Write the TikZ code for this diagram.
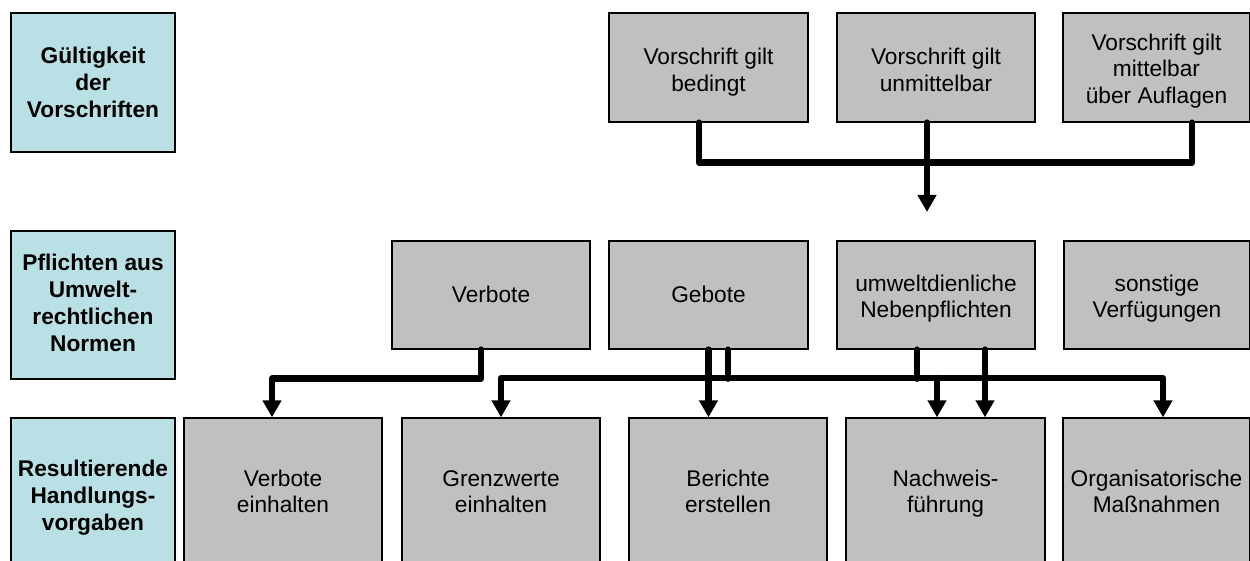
\documentclass[tikz,border=0pt]{standalone}
\usepackage{fontspec}
\setmainfont{Liberation Sans}
\usetikzlibrary{arrows.meta}
\definecolor{labfill}{RGB}{185,224,229}
\definecolor{boxfill}{RGB}{192,192,192}
\newcommand{\boxtext}[2]{\raisebox{-#1}[\height][\depth]{\begin{tabular}{@{}c@{}}#2\end{tabular}}}
\begin{document}
\begin{tikzpicture}[x=1pt,y=-1pt,
  font=\fontsize{22.7}{26.5}\selectfont,
  labelbox/.style={draw=black,line width=1.3pt,fill=labfill,inner sep=0pt,font=\fontsize{22.7}{27}\selectfont\bfseries},
  graybox/.style={draw=black,line width=1.3pt,fill=boxfill,inner sep=0pt},
  wire/.style={line width=6.5pt,line cap=round,line join=round},
  tipped/.style={-{Triangle[width=18pt,length=17pt]}},
  twotips/.style={{Triangle[width=18pt,length=17pt]}-{Triangle[width=18pt,length=17pt]}}]
\useasboundingbox (0,0) rectangle (1250,561);
\clip (0,0) rectangle (1250,561);

% row labels
\node[labelbox,minimum width=164pt,minimum height=139pt] (L1) at (93,82.5) {\boxtext{3pt}{Gültigkeit\\der\\Vorschriften}};
\node[labelbox,minimum width=164pt,minimum height=148pt] (L2) at (93,305) {\boxtext{1pt}{Pflichten aus\\Umwelt-\\rechtlichen\\Normen}};
\node[labelbox,minimum width=164pt,minimum height=154pt] (L3) at (93,495) {\boxtext{3pt}{Resultierende\\Handlungs-\\vorgaben}};

% top row
\node[graybox,minimum width=199pt,minimum height=109pt] (v1) at (708.5,67.5) {\boxtext{5pt}{Vorschrift gilt\\bedingt}};
\node[graybox,minimum width=198pt,minimum height=109pt] (v2) at (936,67.5) {\boxtext{5pt}{Vorschrift gilt\\unmittelbar}};
\node[graybox,minimum width=187pt,minimum height=109pt] (v3) at (1156.5,67.5) {\boxtext{4pt}{Vorschrift gilt\\mittelbar\\über Auflagen}};

% middle row
\node[graybox,minimum width=198pt,minimum height=108pt] (p1) at (491,295) {\boxtext{2pt}{Verbote}};
\node[graybox,minimum width=199pt,minimum height=108pt] (p2) at (708.5,295) {\boxtext{2pt}{Gebote}};
\node[graybox,minimum width=198pt,minimum height=108pt] (p3) at (936,295) {\boxtext{4pt}{umweltdienliche\\Nebenpflichten}};
\node[graybox,minimum width=186pt,minimum height=108pt] (p4) at (1157,295) {\boxtext{4pt}{sonstige\\Verfügungen}};

% bottom row
\node[graybox,minimum width=198pt,minimum height=152pt] (r1) at (283,494) {\boxtext{0pt}{Verbote\\einhalten}};
\node[graybox,minimum width=198pt,minimum height=152pt] (r2) at (501,494) {\boxtext{0pt}{Grenzwerte\\einhalten}};
\node[graybox,minimum width=198pt,minimum height=152pt] (r3) at (728,494) {\boxtext{0pt}{Berichte\\erstellen}};
\node[graybox,minimum width=199pt,minimum height=152pt] (r4) at (945.5,494) {\boxtext{0pt}{Nachweis-\\führung}};
\node[graybox,minimum width=187pt,minimum height=152pt] (r5) at (1156.5,494) {\boxtext{0pt}{Organisatorische\\Maßnahmen}};

% top connectors
\draw[wire] ([xshift=-9.5pt]v1.south) -- ++(0,40) -| ([xshift=35.5pt]v3.south);
\coordinate (t2) at (927,212);
\draw[wire,tipped] ([xshift=-9pt]v2.south) -- (t2);

% middle connectors
\coordinate (bus) at (0,378);
\draw[wire,tipped] ([xshift=-10pt]p1.south) -- ++(0,29) -| ([xshift=-11pt]r1.north);
\draw[wire] ([xshift=19.5pt]p2.south) -- ++(0,29);
\draw[wire] ([xshift=-19pt]p3.south) -- ++(0,29);
\draw[wire,twotips] (r2.north) -- (r2.north |- bus) -| ([xshift=6.5pt]r5.north);
\coordinate (a4) at ([xshift=-8.5pt]r4.north);
\draw[wire,tipped] (a4 |- bus) -- (a4);
\draw[wire,tipped] (p2.south) -- (p2.south |- r3.north);
\coordinate (s2) at ([xshift=49pt]p3.south);
\draw[wire,tipped] (s2) -- (s2 |- r4.north);
\end{tikzpicture}
\end{document}
